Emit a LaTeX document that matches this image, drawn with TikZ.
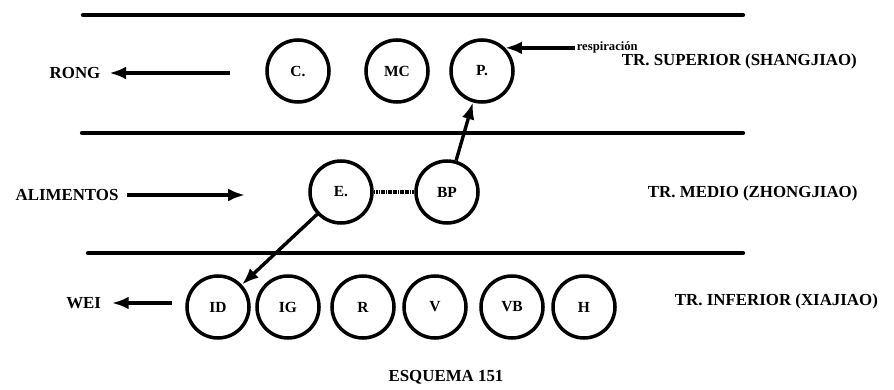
\documentclass[tikz,border=0pt]{standalone}
\usepackage{fontspec}
\setmainfont{Liberation Serif}
\usetikzlibrary{arrows.meta}
\begin{document}
\begin{tikzpicture}[
	organ/.style={draw, circle, line width=2.5pt, minimum size=1.55cm, inner sep=0pt, font=\fontsize{11}{12}\selectfont\bfseries},
	txt/.style={font=\fontsize{12}{14}\selectfont\bfseries},
	note/.style={font=\fontsize{9}{10}\selectfont\bfseries, inner sep=1pt},
	bar/.style={line width=3pt, line cap=round},
	flow/.style={line width=2.4pt, -{Latex[length=4.2mm,width=3.2mm]}},
	dots/.style={line width=2.2pt, dash pattern=on 1.2pt off 0.5pt}
]
\useasboundingbox (0,0) rectangle (22.35,9.725);
% Bands
\draw[bar] (2.075,9.35) -- (18.575,9.35);
\draw[bar] (2.05,6.4) -- (18.575,6.4);
\draw[bar] (2.2,3.4) -- (18.575,3.4);
% Tr. superior
\begin{scope}
	\node[organ] (C) at (7.45,7.95) {C.};
	\node[organ] (MC) at (9.925,7.95) {MC};
	\node[organ] (P) at (12.05,7.95) {P.};
	\node[txt] (rong) at (1.875,7.9) {RONG};
	\coordinate (rongtail) at (5.75,7.9);
	\draw[flow, shorten >=1mm] (rongtail) -- (rong);
	\node[note, anchor=west] (resp) at ([xshift=1.75cm]P.45) {respiración};
	\draw[flow] (resp.west) -- (P.45);
	\node[txt, anchor=west] (sup) at (15.425,8.2) {TR. SUPERIOR (SHANGJIAO)};
\end{scope}
% Tr. medio
\begin{scope}
	\node[organ] (E) at (8.525,4.925) {E.};
	\node[organ] (BP) at (11.175,4.925) {BP};
	\draw[dots] (E) -- (BP);
	\node[txt] (alim) at (1.675,4.85) {ALIMENTOS};
	\coordinate (alimtip) at (6.125,4.85);
	\draw[flow, shorten <=1mm] (alim) -- (alimtip);
	\draw[flow] (BP) -- (P);
	\node[txt, anchor=west] (med) at (16.075,4.9) {TR. MEDIO (ZHONGJIAO)};
\end{scope}
% Tr. inferior
\begin{scope}
	\node[organ] (ID) at (5.45,2.05) {ID};
	\node[organ] (IG) at (7.2,2.05) {IG};
	\node[organ] (R) at (9.075,2.05) {R};
	\node[organ] (V) at (10.875,2.05) {V};
	\node[organ] (VB) at (12.8,2.05) {VB};
	\node[organ] (H) at (14.6,2.05) {H};
	\node[txt] (wei) at (2.09,2.15) {WEI};
	\coordinate (weitail) at (4.3,2.15);
	\draw[flow, shorten >=1.5mm] (weitail) -- (wei);
	\draw[flow] (E) -- (ID);
	\node[txt, anchor=west] (inf) at (16.75,2.2) {TR. INFERIOR (XIAJIAO)};
\end{scope}
\node[txt] (esq) at (11.15,0.3) {ESQUEMA 151};
\end{tikzpicture}
\end{document}
